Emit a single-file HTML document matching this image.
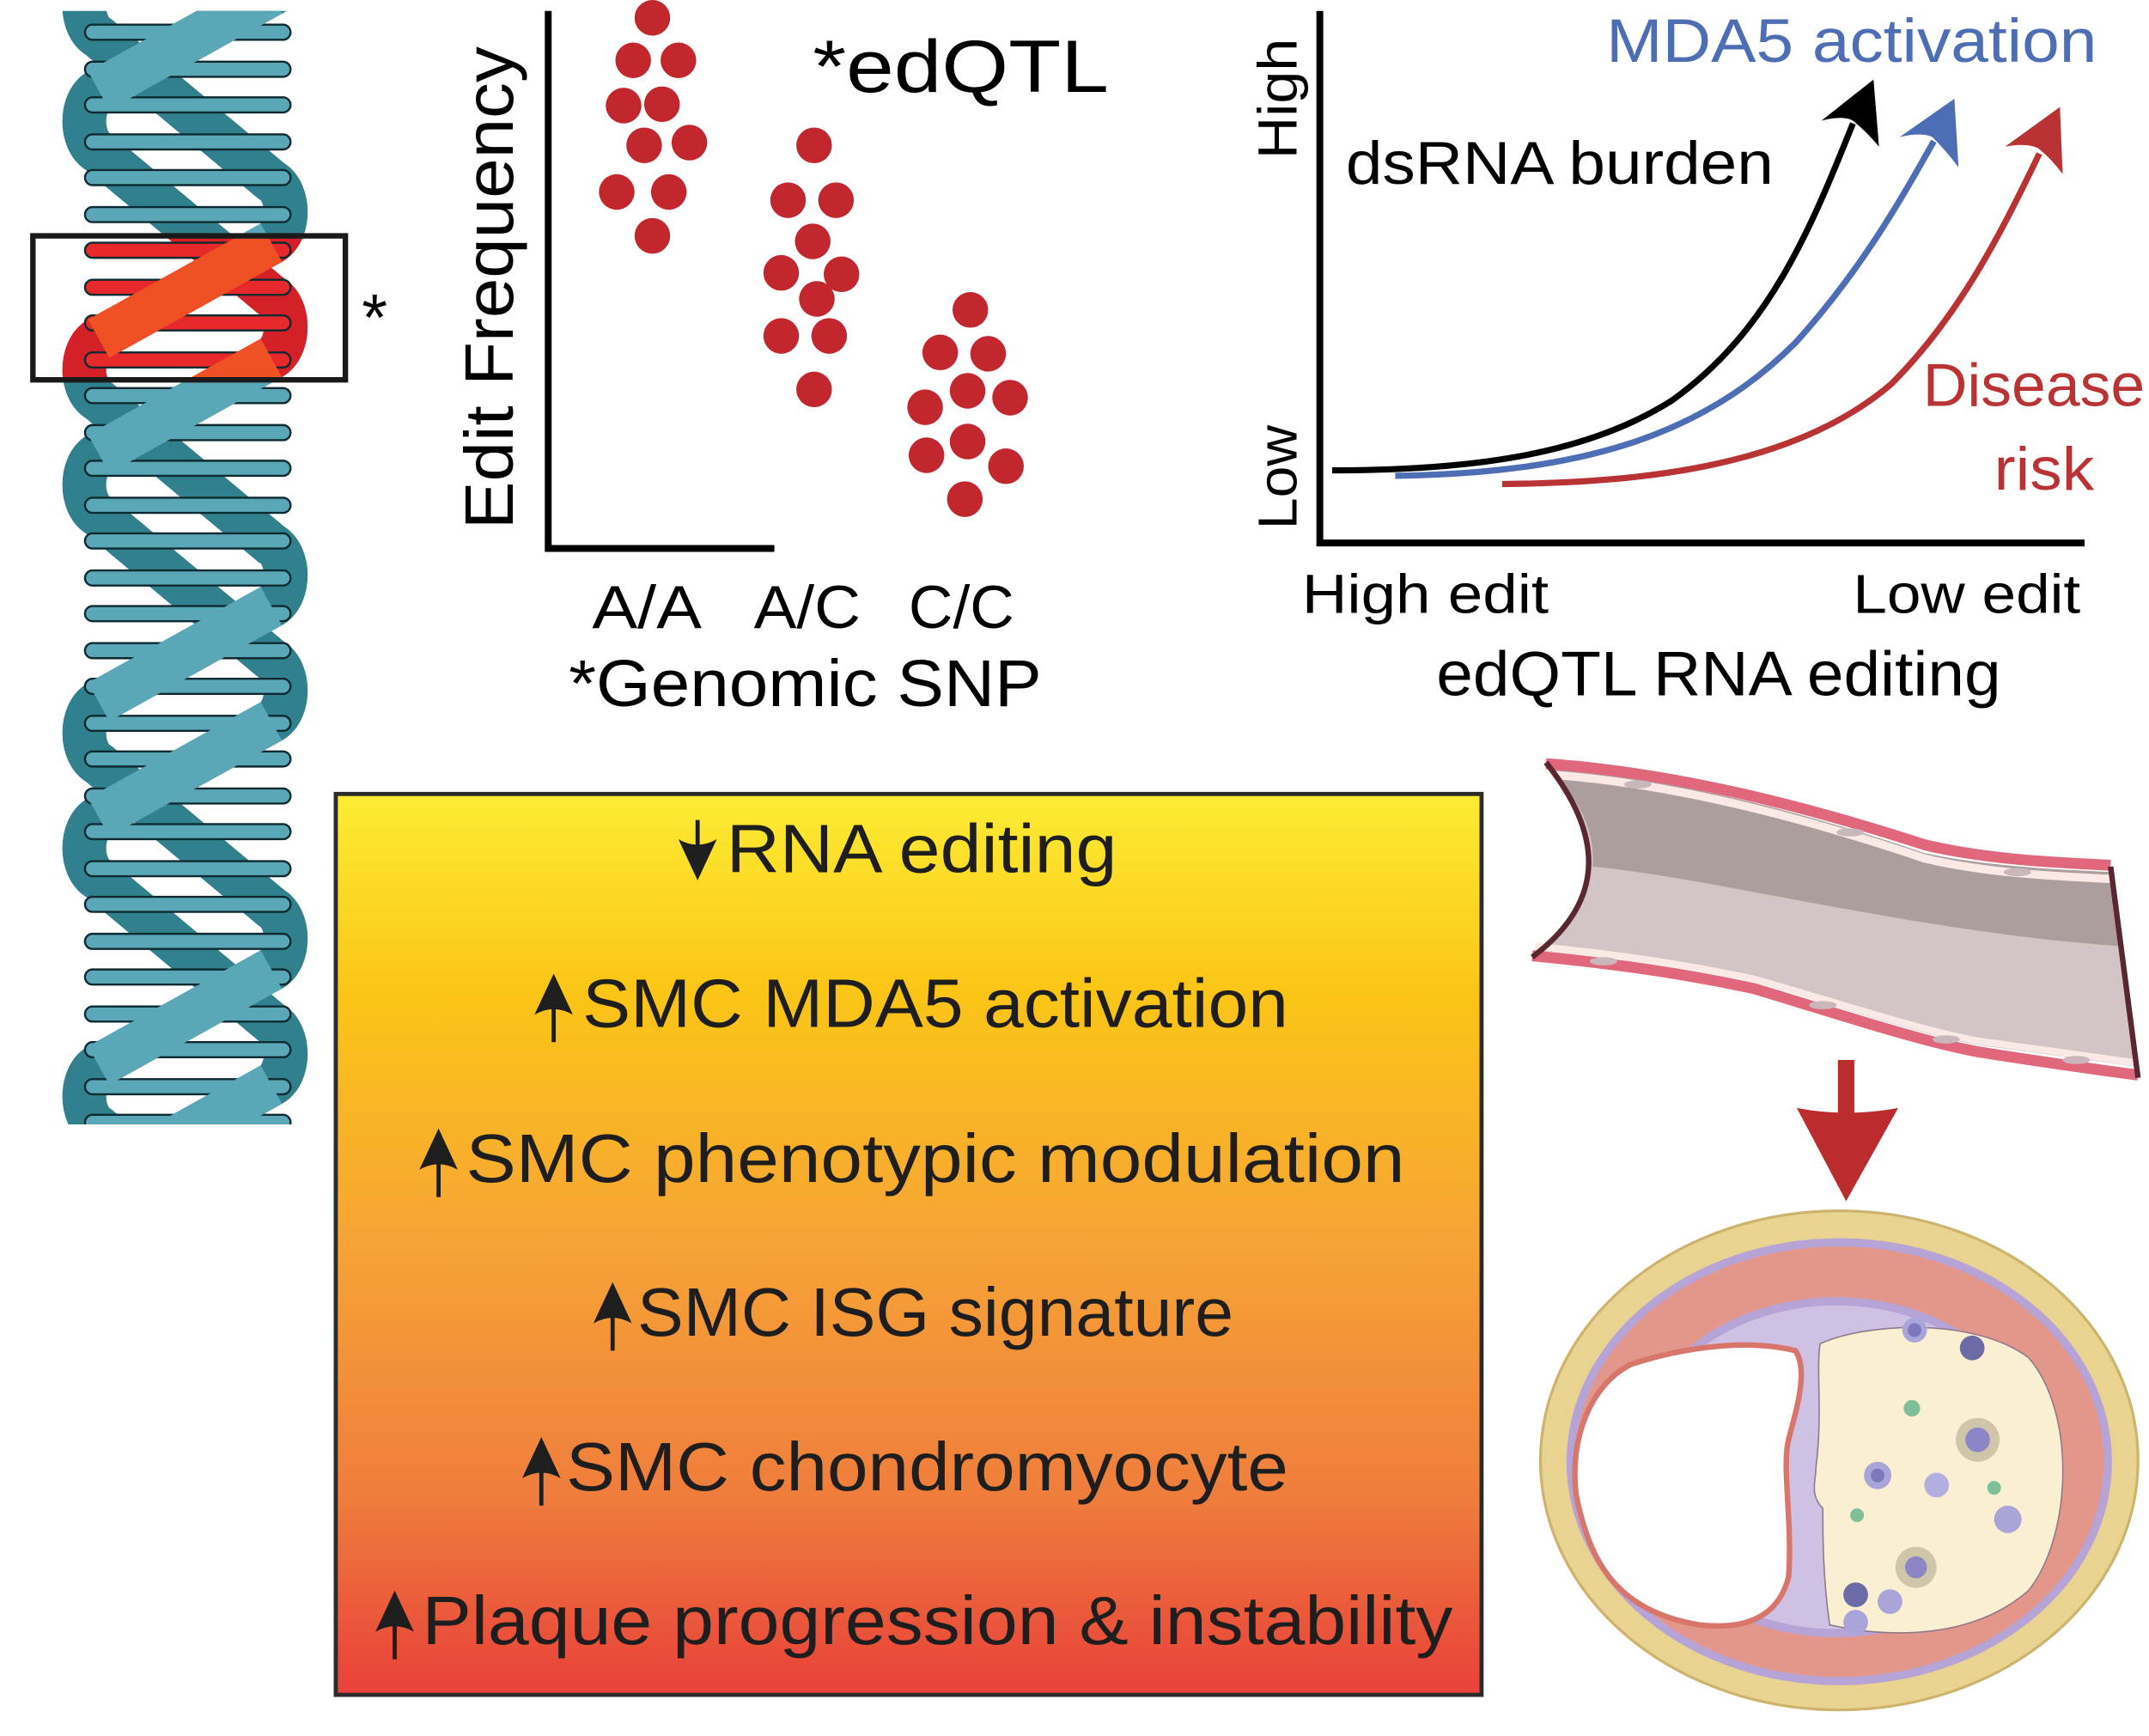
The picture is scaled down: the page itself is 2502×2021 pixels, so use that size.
<!DOCTYPE html>
<html><head><meta charset="utf-8"><style>
html,body{margin:0;padding:0;background:#fff;}
svg{display:block;}
text{font-family:"Liberation Sans",sans-serif;}
</style></head><body>
<svg width="2502" height="2021" viewBox="0 0 1568 1266" preserveAspectRatio="none" xmlns="http://www.w3.org/2000/svg">
<defs>
<linearGradient id="gb" x1="0" y1="0" x2="0" y2="1">
<stop offset="0" stop-color="#fdec33"/>
<stop offset="0.22" stop-color="#fbc516"/>
<stop offset="0.5" stop-color="#f6a336"/>
<stop offset="0.78" stop-color="#ef7d3c"/>
<stop offset="1" stop-color="#e8403a"/>
</linearGradient>
<clipPath id="dnaclip"><rect x="0" y="8" width="300" height="812"/></clipPath>
<clipPath id="redclip"><rect x="26" y="173" width="224" height="102"/></clipPath>
<g id="back" fill="none" stroke-width="32" stroke-linejoin="round">
<path d="M198,-88 L72,-18 C58,-10 58,19 72,27 L198,132 C212,140 212,169 198,177 L72,247 C58,255 58,284 72,292 L198,397 C212,405 212,434 198,442 L72,512 C58,520 58,549 72,557 L198,662 C212,670 212,699 198,707 L72,777 C58,785 58,814 72,822 L198,927"/>
<path d="M72,-154 L198,-49 C212,-41 212,-12 198,-4 L72,66 C58,74 58,103 72,111 L198,216 C212,224 212,253 198,261 L72,331 C58,339 58,368 72,376 L198,481 C212,489 212,518 198,526 L72,596 C58,604 58,633 72,641 L198,746 C212,754 212,783 198,791 L72,861"/>
</g>
<g id="front" fill="none" stroke-width="32" stroke-linecap="butt">
<line x1="198" y1="-88" x2="72" y2="-18"/>
<line x1="198" y1="-4" x2="72" y2="66"/>
<line x1="198" y1="177" x2="72" y2="247"/>
<line x1="198" y1="261" x2="72" y2="331"/>
<line x1="198" y1="442" x2="72" y2="512"/>
<line x1="198" y1="526" x2="72" y2="596"/>
<line x1="198" y1="707" x2="72" y2="777"/>
<line x1="198" y1="791" x2="72" y2="861"/>
</g>
<g id="bars" stroke="#0d2a30" stroke-width="1.5">
<rect x="62" y="18" width="150" height="11" rx="5.5"/>
<rect x="62" y="45" width="150" height="11" rx="5.5"/>
<rect x="62" y="71" width="150" height="11" rx="5.5"/>
<rect x="62" y="98" width="150" height="11" rx="5.5"/>
<rect x="62" y="124" width="150" height="11" rx="5.5"/>
<rect x="62" y="151" width="150" height="11" rx="5.5"/>
<rect x="62" y="177" width="150" height="11" rx="5.5"/>
<rect x="62" y="204" width="150" height="11" rx="5.5"/>
<rect x="62" y="230" width="150" height="11" rx="5.5"/>
<rect x="62" y="257" width="150" height="11" rx="5.5"/>
<rect x="62" y="283" width="150" height="11" rx="5.5"/>
<rect x="62" y="310" width="150" height="11" rx="5.5"/>
<rect x="62" y="336" width="150" height="11" rx="5.5"/>
<rect x="62" y="363" width="150" height="11" rx="5.5"/>
<rect x="62" y="389" width="150" height="11" rx="5.5"/>
<rect x="62" y="416" width="150" height="11" rx="5.5"/>
<rect x="62" y="442" width="150" height="11" rx="5.5"/>
<rect x="62" y="469" width="150" height="11" rx="5.5"/>
<rect x="62" y="495" width="150" height="11" rx="5.5"/>
<rect x="62" y="522" width="150" height="11" rx="5.5"/>
<rect x="62" y="548" width="150" height="11" rx="5.5"/>
<rect x="62" y="575" width="150" height="11" rx="5.5"/>
<rect x="62" y="601" width="150" height="11" rx="5.5"/>
<rect x="62" y="628" width="150" height="11" rx="5.5"/>
<rect x="62" y="654" width="150" height="11" rx="5.5"/>
<rect x="62" y="681" width="150" height="11" rx="5.5"/>
<rect x="62" y="707" width="150" height="11" rx="5.5"/>
<rect x="62" y="734" width="150" height="11" rx="5.5"/>
<rect x="62" y="760" width="150" height="11" rx="5.5"/>
<rect x="62" y="787" width="150" height="11" rx="5.5"/>
<rect x="62" y="813" width="150" height="11" rx="5.5"/>
</g>
</defs>

<!-- DNA -->
<g clip-path="url(#dnaclip)">
<use href="#back" stroke="#31808e"/>
<use href="#bars" fill="#5aa7b8"/>
<use href="#front" stroke="#5aa7b8"/>
</g>
<g clip-path="url(#redclip)">
<rect x="26" y="173" width="224" height="102" fill="#fff"/>
<use href="#back" stroke="#d42027"/>
<use href="#bars" fill="#e8292b"/>
<use href="#front" stroke="#ef5024"/>
</g>
<rect x="24" y="172" width="228" height="105" fill="none" stroke="#1a1a1a" stroke-width="4"/>
<text x="264" y="248" font-size="48">*</text>

<!-- Scatter plot -->
<text transform="translate(374,386) rotate(-90)" font-size="50" textLength="352" lengthAdjust="spacingAndGlyphs">Edit Frequency</text>
<polyline points="400,8 400,400 565,400" fill="none" stroke="#000" stroke-width="5"/>
<text x="593" y="67" font-size="54" textLength="216" lengthAdjust="spacingAndGlyphs">*edQTL</text>
<g fill="#c1272d">
<circle cx="476" cy="13" r="13"/><circle cx="462" cy="44" r="13"/><circle cx="495" cy="44" r="13"/>
<circle cx="455" cy="77" r="13"/><circle cx="483" cy="76" r="13"/><circle cx="503" cy="104" r="13"/>
<circle cx="470" cy="106" r="13"/><circle cx="450" cy="140" r="13"/><circle cx="488" cy="140" r="13"/>
<circle cx="476" cy="172" r="13"/>
<circle cx="594" cy="106" r="13"/><circle cx="575" cy="146" r="13"/><circle cx="610" cy="146" r="13"/>
<circle cx="593" cy="176" r="13"/><circle cx="570" cy="199" r="13"/><circle cx="614" cy="200" r="13"/>
<circle cx="596" cy="218" r="13"/><circle cx="570" cy="245" r="13"/><circle cx="605" cy="245" r="13"/>
<circle cx="594" cy="284" r="13"/>
<circle cx="708" cy="226" r="13"/><circle cx="686" cy="257" r="13"/><circle cx="721" cy="258" r="13"/>
<circle cx="675" cy="297" r="13"/><circle cx="706" cy="285" r="13"/><circle cx="737" cy="290" r="13"/>
<circle cx="706" cy="322" r="13"/><circle cx="676" cy="332" r="13"/><circle cx="734" cy="340" r="13"/>
<circle cx="704" cy="364" r="13"/>
</g>
<text x="432" y="458" font-size="44" textLength="80" lengthAdjust="spacingAndGlyphs">A/A</text>
<text x="550" y="458" font-size="44" textLength="78" lengthAdjust="spacingAndGlyphs">A/C</text>
<text x="663" y="458" font-size="44" textLength="77" lengthAdjust="spacingAndGlyphs">C/C</text>
<text x="415" y="515" font-size="48" textLength="345" lengthAdjust="spacingAndGlyphs">*Genomic SNP</text>

<!-- Line graph -->
<polyline points="963,8 963,396 1521,396" fill="none" stroke="#000" stroke-width="5"/>
<text transform="translate(946,116) rotate(-90)" font-size="40" textLength="88" lengthAdjust="spacingAndGlyphs">High</text>
<text transform="translate(946,386) rotate(-90)" font-size="40" textLength="76" lengthAdjust="spacingAndGlyphs">Low</text>
<text x="982" y="134" font-size="44" textLength="312" lengthAdjust="spacingAndGlyphs">dsRNA burden</text>
<text x="1172" y="45" font-size="45" fill="#4d6db5" textLength="358" lengthAdjust="spacingAndGlyphs">MDA5 activation</text>
<text x="1403" y="296" font-size="44" fill="#b93234" textLength="162" lengthAdjust="spacingAndGlyphs">Disease</text>
<text x="1455" y="357" font-size="44" fill="#b93234" textLength="73" lengthAdjust="spacingAndGlyphs">risk</text>
<text x="950" y="447" font-size="40" textLength="180" lengthAdjust="spacingAndGlyphs">High edit</text>
<text x="1352" y="447" font-size="40" textLength="166" lengthAdjust="spacingAndGlyphs">Low edit</text>
<text x="1048" y="507" font-size="46" textLength="412" lengthAdjust="spacingAndGlyphs">edQTL RNA editing</text>
<g fill="none" stroke-width="4.5">
<path d="M972,343 C1080,343 1160,330 1220,292 C1290,242 1320,170 1352,90" stroke="#000"/>
<path d="M1018,347 C1150,345 1240,320 1310,250 C1360,195 1390,140 1411,103" stroke="#4d6db5"/>
<path d="M1096,353 C1200,352 1310,340 1380,280 C1430,230 1460,170 1488,112" stroke="#b93234"/>
</g>
<path d="M1367,58 L1329,88 Q1345,84 1352,88 Q1362,96 1371,107 Z" fill="#000"/>
<path d="M1426,72 L1386,100 Q1402,96 1410,100 Q1420,110 1429,122 Z" fill="#4d6db5"/>
<path d="M1503,78 L1463,107 Q1478,104 1487,108 Q1497,116 1505,127 Z" fill="#b93234"/>

<!-- Yellow box -->
<rect x="245" y="579" width="836" height="657" fill="url(#gb)" stroke="#2b2b2b" stroke-width="3"/>
<g fill="#1e1e1e" font-size="50">
<text x="530" y="636" textLength="285" lengthAdjust="spacingAndGlyphs">RNA editing</text>
<text x="425" y="749" textLength="515" lengthAdjust="spacingAndGlyphs">SMC MDA5 activation</text>
<text x="340" y="862" textLength="685" lengthAdjust="spacingAndGlyphs">SMC phenotypic modulation</text>
<text x="465" y="974" textLength="435" lengthAdjust="spacingAndGlyphs">SMC ISG signature</text>
<text x="413" y="1087" textLength="527" lengthAdjust="spacingAndGlyphs">SMC chondromyocyte</text>
<text x="308" y="1199" textLength="752" lengthAdjust="spacingAndGlyphs">Plaque progression &amp; instability</text>
</g>
<g fill="#1e1e1e" stroke="#1e1e1e" stroke-width="3">
<line x1="509" y1="598" x2="509" y2="625"/>
<path d="M509,642 L495,612 Q509,620 523,612 Z" stroke="none"/>
<line x1="404" y1="730" x2="404" y2="760"/>
<path d="M404,710 L390,740 Q404,732 418,740 Z" stroke="none"/>
<line x1="320" y1="843" x2="320" y2="873"/>
<path d="M320,823 L306,853 Q320,845 334,853 Z" stroke="none"/>
<line x1="447" y1="955" x2="447" y2="985"/>
<path d="M447,935 L433,965 Q447,957 461,965 Z" stroke="none"/>
<line x1="395" y1="1068" x2="395" y2="1098"/>
<path d="M395,1048 L381,1078 Q395,1070 409,1078 Z" stroke="none"/>
<line x1="288" y1="1180" x2="288" y2="1210"/>
<path d="M288,1160 L274,1190 Q288,1182 302,1190 Z" stroke="none"/>
</g>

<!-- Vessel -->
<path d="M1130,560 C1230,568 1330,597 1404,622 C1450,632 1500,634 1540,636 L1560,778 C1500,770 1443,762 1443,762 C1400,754 1340,734 1280,716 C1229,706 1180,698 1120,693 Q1195,640 1130,560 Z" fill="#d3c5c6"/>
<path d="M1130,560 C1230,568 1330,597 1404,622 C1450,632 1500,634 1540,636 L1547,690 C1400,680 1250,640 1162,632 Q1165,595 1130,560 Z" fill="#ad9e9e"/>
<g fill="none">
<path d="M1128,557 C1230,564 1330,592 1404,616 C1450,627 1500,629 1540,631" stroke="#e0677c" stroke-width="8"/>
<path d="M1132,565 C1230,572 1330,601 1404,626 C1450,637 1500,639 1540,641" stroke="#fbe9e5" stroke-width="6"/>
<path d="M1118,697 C1180,703 1229,710 1280,721 C1340,739 1400,759 1443,767 C1500,776 1560,784 1560,784" stroke="#e0677c" stroke-width="8"/>
<path d="M1120,690 C1180,696 1229,703 1280,714 C1340,731 1400,751 1443,759 C1500,767 1558,775 1558,775" stroke="#fbe9e5" stroke-width="5"/>
<path d="M1128,556 Q1195,640 1118,698" stroke="#5a2630" stroke-width="4"/>
<path d="M1540,632 L1560,786" stroke="#5a2630" stroke-width="4"/>
</g>
<g fill="#c9b7bb"><ellipse cx="1195" cy="572" rx="10" ry="3"/><ellipse cx="1350" cy="607" rx="10" ry="3"/><ellipse cx="1472" cy="636" rx="10" ry="3"/><ellipse cx="1170" cy="701" rx="10" ry="3"/><ellipse cx="1330" cy="733" rx="10" ry="3"/><ellipse cx="1420" cy="758" rx="10" ry="3"/><ellipse cx="1515" cy="773" rx="10" ry="3"/></g>

<!-- Red arrow -->
<rect x="1341" y="773" width="12" height="40" fill="#bb2d2d"/>
<path d="M1311,808 Q1347,815 1385,808 L1347,876 Z" fill="#bb2d2d"/>

<!-- Cross section -->
<ellipse cx="1342" cy="1065" rx="218" ry="182" fill="#e9d390" stroke="#cdb36c" stroke-width="2"/>
<ellipse cx="1342" cy="1066" rx="199" ry="163" fill="#b6a4d6"/>
<ellipse cx="1342" cy="1066" rx="193" ry="157" fill="#e3978b"/>
<ellipse cx="1340" cy="1070" rx="152" ry="124" fill="#b6a4d6"/>
<ellipse cx="1340" cy="1070" rx="146" ry="118" fill="#cfc1e4"/>
<path d="M1328,980 C1360,965 1440,960 1480,990 C1515,1030 1512,1120 1480,1160 C1440,1195 1380,1195 1335,1185 C1330,1150 1330,1120 1330,1100 C1320,1090 1325,1080 1325,1070 C1330,1030 1325,1000 1328,980 Z" fill="#fbefd1" stroke="#8e7a8a" stroke-width="1"/>
<path d="M1310,985 C1270,975 1220,985 1190,995 C1160,1010 1145,1050 1150,1090 C1160,1140 1180,1175 1240,1185 C1285,1190 1300,1170 1305,1150 C1308,1110 1300,1070 1305,1050 C1310,1030 1320,1000 1310,985 Z" fill="#fff" stroke="#d9766c" stroke-width="4"/>
<g>
<circle cx="1397" cy="970" r="9" fill="#a9a5d9"/><circle cx="1397" cy="970" r="5" fill="#7d78bd"/>
<circle cx="1439" cy="983" r="9" fill="#6c6ba8"/>
<circle cx="1395" cy="1027" r="6" fill="#7fbf97"/>
<circle cx="1443" cy="1050" r="16" fill="#cfc5a8"/><circle cx="1443" cy="1050" r="9" fill="#8d86c6"/>
<circle cx="1370" cy="1076" r="10" fill="#a9a5d9"/><circle cx="1370" cy="1076" r="5" fill="#7d78bd"/>
<circle cx="1413" cy="1083" r="9" fill="#b2aee0"/>
<circle cx="1455" cy="1085" r="5" fill="#7fbf97"/>
<circle cx="1465" cy="1108" r="10" fill="#a9a5d9"/>
<circle cx="1355" cy="1105" r="5" fill="#7fbf97"/>
<circle cx="1398" cy="1143" r="15" fill="#cfc5a8"/><circle cx="1398" cy="1143" r="8" fill="#8d86c6"/>
<circle cx="1354" cy="1163" r="9" fill="#6c6ba8"/>
<circle cx="1379" cy="1168" r="9" fill="#a9a5d9"/>
<circle cx="1354" cy="1183" r="9" fill="#a9a5d9"/>
</g>
</svg>
</body></html>
